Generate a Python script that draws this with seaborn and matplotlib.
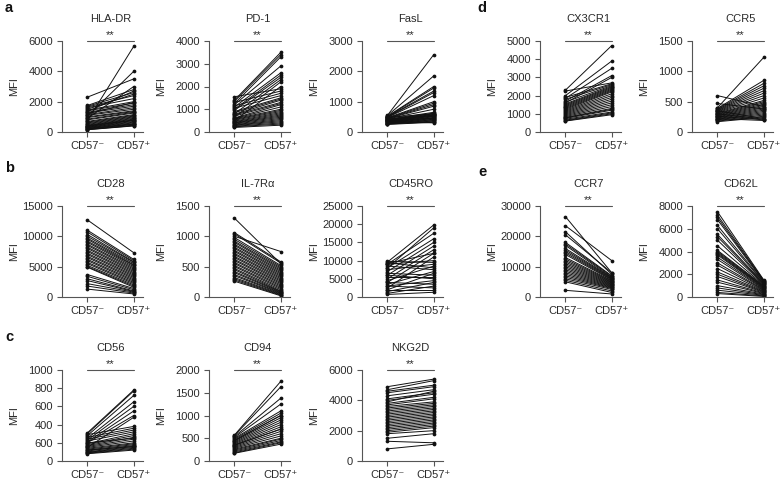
import matplotlib
matplotlib.use("Agg")
import matplotlib.pyplot as plt
import pandas as pd
import seaborn as sns

# MFI values, CD57- / CD57+ per donor
hla_neg = [2300, 1750, 1700, 1650, 1600, 1500, 1450, 1400, 1350, 1300, 1250, 1200, 1150, 1100, 1050, 1000, 950, 900, 850, 800,
           750, 700, 650, 600, 550, 500, 450, 420, 400, 380, 350, 320, 300, 280, 250, 230, 200, 180, 160, 150]
hla_pos = [3500, 2800, 2600, 2400, 2200, 2500, 2000, 1900, 2700, 1800, 1700, 1950, 1600, 1500, 4000, 1400, 1350, 3000, 1300, 1250,
           5650, 1150, 1100, 1050, 1000, 950, 900, 850, 800, 780, 750, 700, 650, 600, 550, 520, 500, 450, 420, 400]

pd1_neg = [1550, 1400, 1350, 1300, 1250, 1200, 1150, 1100, 1050, 1000, 950, 900, 850, 800, 780, 750, 700, 650, 620, 600,
           580, 550, 520, 500, 480, 450, 420, 400, 380, 350, 320, 300, 280, 250, 230, 200]
pd1_pos = [1900, 3500, 3400, 1800, 3300, 2900, 1700, 2600, 1600, 2500, 2400, 1500, 1450, 2300, 1400, 1300, 1250, 2200, 1200, 1100,
           1000, 950, 900, 2000, 850, 800, 750, 700, 650, 600, 550, 500, 450, 400, 350, 300]

fasl_neg = [550, 540, 520, 510, 500, 490, 480, 470, 460, 450, 440, 430, 420, 410, 400, 390, 380, 370, 360, 350,
            340, 330, 320, 310, 300, 290, 280, 270, 260, 250, 480, 420, 380, 350]
fasl_pos = [2550, 1850, 1500, 1450, 1350, 1300, 1200, 1000, 950, 900, 850, 750, 650, 620, 600, 580, 560, 550, 530, 520,
            500, 480, 460, 440, 420, 400, 380, 360, 340, 320, 600, 550, 450, 300]

cx3cr1_neg = [2300, 2250, 2000, 1900, 1850, 1800, 1700, 1650, 1600, 1550, 1500, 1450, 1400, 1350, 1300, 1250, 1200, 1150, 1100, 1050,
              1000, 950, 900, 850, 800, 780, 750, 700, 650, 620, 600]
cx3cr1_pos = [4750, 2700, 3900, 2650, 3500, 2600, 3100, 2550, 3000, 2500, 2450, 2400, 2350, 2300, 2250, 2200, 2100, 2000, 1900, 1800,
              1700, 1600, 1500, 1400, 1300, 1250, 1200, 1100, 1050, 1000, 950]

ccr5_neg = [600, 470, 400, 390, 380, 370, 360, 350, 340, 330, 320, 310, 300, 290, 280, 270, 260, 250, 240, 230,
            220, 210, 200, 190, 180, 170, 350, 300, 260, 220]
ccr5_pos = [420, 380, 1230, 850, 800, 760, 720, 680, 640, 600, 560, 520, 500, 480, 460, 440, 420, 400, 380, 360,
            340, 320, 300, 280, 260, 240, 220, 210, 200, 190]

cd28_neg = [12700, 11000, 10700, 10300, 10000, 9700, 9500, 9200, 9000, 8700, 8500, 8200, 8000, 7700, 7500, 7200, 7000, 6700, 6500, 6200,
            6000, 5700, 5500, 5200, 5000, 4900, 3700, 3400, 3000, 2700, 2200, 1800, 1300]
cd28_pos = [7300, 6200, 6000, 5800, 5700, 5500, 5300, 5200, 5000, 4800, 4600, 4400, 4200, 4000, 3800, 3600, 3400, 3200, 3000, 2800,
            2600, 2400, 2200, 2000, 1800, 1600, 1400, 1200, 1000, 900, 800, 650, 500]

il7r_neg = [1300, 1060, 1040, 1000, 980, 950, 920, 900, 870, 850, 820, 800, 770, 750, 720, 700, 670, 650, 620, 600,
            570, 550, 520, 500, 470, 450, 420, 400, 370, 350, 320, 300, 280, 260]
il7r_pos = [550, 580, 560, 750, 520, 500, 480, 460, 440, 420, 400, 380, 360, 340, 320, 300, 280, 260, 240, 220,
            200, 180, 160, 140, 120, 100, 90, 80, 70, 60, 50, 40, 30, 20]

cd45ro_neg = [9800, 9600, 9400, 9200, 9000, 8500, 8000, 7500, 7000, 6500, 6000, 5500, 5000, 4500, 4000, 3500, 3000, 2500, 2000, 1500,
              1000, 700, 9000, 8000, 6000, 4000, 3000, 2000]
cd45ro_pos = [9500, 19800, 8000, 12000, 17500, 7500, 16000, 9000, 15000, 6000, 14000, 5500, 13000, 8500, 12000, 7000, 4500, 11000, 6500, 4000,
              3000, 1300, 10000, 19000, 5000, 3500, 2500, 2000]

ccr7_neg = [26500, 23500, 21500, 20500, 18000, 17500, 17000, 16000, 15500, 15000, 14500, 14000, 13000, 12500, 12000, 11500, 11000, 10500, 10000, 9500,
            9000, 8500, 8000, 7500, 7000, 6500, 6000, 5500, 5000, 2200]
ccr7_pos = [8000, 12000, 7500, 8000, 7000, 6800, 6500, 6400, 6200, 6000, 5800, 5600, 5400, 5200, 5000, 4800, 4600, 4400, 4200, 4000,
            3800, 3600, 3400, 3200, 3000, 2800, 2500, 2000, 1500, 1000]

cd62l_neg = [7500, 7200, 7000, 6800, 6300, 6000, 5500, 5300, 5000, 4500, 4100, 4000, 3900, 3800, 3700, 3500, 3300, 3000, 2800, 2500,
             2200, 2000, 1800, 1500, 1300, 1000, 800, 600, 400, 300]
cd62l_pos = [1500, 1450, 1400, 1350, 1300, 1250, 1200, 1150, 1100, 1050, 1000, 950, 900, 850, 800, 750, 700, 650, 600, 550,
             500, 450, 400, 350, 300, 250, 200, 150, 100, 50]

cd56_neg = [310, 300, 290, 280, 260, 250, 240, 230, 220, 210, 200, 190, 180, 170, 160, 150, 140, 130, 120, 110,
            100, 95, 90, 85, 80, 150, 200, 120]
cd56_pos = [780, 770, 380, 720, 360, 650, 340, 600, 320, 550, 500, 300, 280, 260, 240, 220, 200, 190, 180, 170,
            160, 150, 140, 130, 120, 480, 250, 160]

cd94_neg = [570, 560, 540, 520, 500, 480, 460, 440, 420, 400, 380, 360, 340, 320, 300, 280, 260, 240, 220, 200,
            180, 170, 450, 350]
cd94_pos = [1750, 1630, 1380, 1250, 1100, 1050, 1000, 950, 900, 850, 800, 750, 700, 650, 600, 550, 500, 480, 450, 420,
            400, 370, 1000, 700]

nkg2d_neg = [4900, 4700, 4600, 4500, 4300, 4100, 4000, 3900, 3800, 3700, 3600, 3500, 3400, 3300, 3200, 3100, 3000, 2900, 2800, 2700,
             2600, 2500, 2400, 2300, 2200, 2100, 2000, 1900, 1800, 1500, 1300, 800]
nkg2d_pos = [5400, 5300, 5000, 4900, 4700, 4500, 4400, 4600, 4200, 4100, 3900, 3800, 3700, 3600, 3500, 3400, 3300, 3200, 3100, 3000,
             2900, 2800, 2700, 2600, 2500, 2400, 2300, 2200, 2000, 1800, 1200, 1100]

# y ticks per panel (the CD56 panel prints "600" at 200 in the original)
hla_ticks = [0, 2000, 4000, 6000]
pd1_ticks = [0, 1000, 2000, 3000, 4000]
fasl_ticks = [0, 1000, 2000, 3000]
cx3cr1_ticks = [0, 1000, 2000, 3000, 4000, 5000]
ccr5_ticks = [0, 500, 1000, 1500]
cd28_ticks = [0, 5000, 10000, 15000]
il7r_ticks = [0, 500, 1000, 1500]
cd45ro_ticks = [0, 5000, 10000, 15000, 20000, 25000]
ccr7_ticks = [0, 10000, 20000, 30000]
cd62l_ticks = [0, 2000, 4000, 6000, 8000]
cd56_ticks = [0, 200, 400, 600, 800, 1000]
cd56_labels = ["0", "600", "400", "600", "800", "1000"]
cd94_ticks = [0, 500, 1000, 1500, 2000]
nkg2d_ticks = [0, 2000, 4000, 6000]
x_labels = ["CD57\u207b", "CD57\u207a"]

sns.set_theme(style="ticks")
plt.rcParams["font.family"] = ["Liberation Sans", "DejaVu Sans"]

AX_COL = "#555555"
TXT_COL = "#2b2b2b"
FS = 8

W, H = 784, 484
fig = plt.figure(figsize=(W / 100, H / 100), dpi=100)

col_x = [62, 209, 362, 540, 692]
row_top = [41, 206, 370]
AX_W, AX_H = 81, 91

panels = [
    ("HLA-DR", hla_neg, hla_pos, hla_ticks, None, 0, 0),
    ("PD-1", pd1_neg, pd1_pos, pd1_ticks, None, 0, 1),
    ("FasL", fasl_neg, fasl_pos, fasl_ticks, None, 0, 2),
    ("CX3CR1", cx3cr1_neg, cx3cr1_pos, cx3cr1_ticks, None, 0, 3),
    ("CCR5", ccr5_neg, ccr5_pos, ccr5_ticks, None, 0, 4),
    ("CD28", cd28_neg, cd28_pos, cd28_ticks, None, 1, 0),
    ("IL-7R\u03b1", il7r_neg, il7r_pos, il7r_ticks, None, 1, 1),
    ("CD45RO", cd45ro_neg, cd45ro_pos, cd45ro_ticks, None, 1, 2),
    ("CCR7", ccr7_neg, ccr7_pos, ccr7_ticks, None, 1, 3),
    ("CD62L", cd62l_neg, cd62l_pos, cd62l_ticks, None, 1, 4),
    ("CD56", cd56_neg, cd56_pos, cd56_ticks, cd56_labels, 2, 0),
    ("CD94", cd94_neg, cd94_pos, cd94_ticks, None, 2, 1),
    ("NKG2D", nkg2d_neg, nkg2d_pos, nkg2d_ticks, None, 2, 2),
]

for title, neg, pos, ticks, labels, r, c in panels:
    left = col_x[c] / W
    bottom = 1 - (row_top[r] + AX_H) / H
    ax = fig.add_axes([left, bottom, AX_W / W, AX_H / H])

    df = pd.DataFrame({"neg": neg, "pos": pos}).reset_index()
    long = df.melt(id_vars="index", var_name="group", value_name="MFI")
    long["x"] = long["group"].map({"neg": 0, "pos": 1})
    sns.lineplot(data=long, x="x", y="MFI", units="index", estimator=None,
                 color="#111111", lw=0.7, marker="o", markersize=2.7,
                 markeredgewidth=0, legend=False, ax=ax)

    ymax = ticks[-1]
    ax.set_xlim(-0.55, 1.2)
    ax.set_ylim(0, ymax)
    ax.set_xticks([0, 1])
    ax.set_xticklabels(x_labels)
    ax.set_yticks(ticks)
    if labels is not None:
        ax.set_yticklabels(labels)
    ax.set_xlabel("")
    ax.set_ylabel("MFI", fontsize=FS, color=TXT_COL)
    # Prism puts the axis title at a fixed distance from the axis line
    ax.yaxis.set_label_coords(-43 / AX_W, 0.5)
    ax.tick_params(axis="both", labelsize=FS, colors=AX_COL, labelcolor=TXT_COL,
                   length=3.5, width=0.8, pad=3)
    sns.despine(ax=ax)
    for s in ("left", "bottom"):
        ax.spines[s].set_color(AX_COL)
        ax.spines[s].set_linewidth(0.8)

    # significance bar + title
    ax.plot([0, 1], [ymax, ymax], color=AX_COL, lw=0.8, clip_on=False)
    ax.annotate("**", xy=(0.5, ymax), xytext=(0, 0.5), textcoords="offset points",
                ha="center", va="bottom", fontsize=FS, color=TXT_COL,
                annotation_clip=False)
    ax.annotate(title, xy=(0.5, ymax), xytext=(0, 12.5), textcoords="offset points",
                ha="center", va="bottom", fontsize=8, color=TXT_COL,
                annotation_clip=False)

for letter, x, y in [("a", 5, 8), ("b", 5, 168), ("c", 5, 337), ("d", 477, 8), ("e", 478, 172)]:
    fig.text(x / W, 1 - y / H, letter, fontsize=10.5, fontweight="bold",
             ha="left", va="center", color="#111111")

fig.savefig("out.png", dpi=100)
